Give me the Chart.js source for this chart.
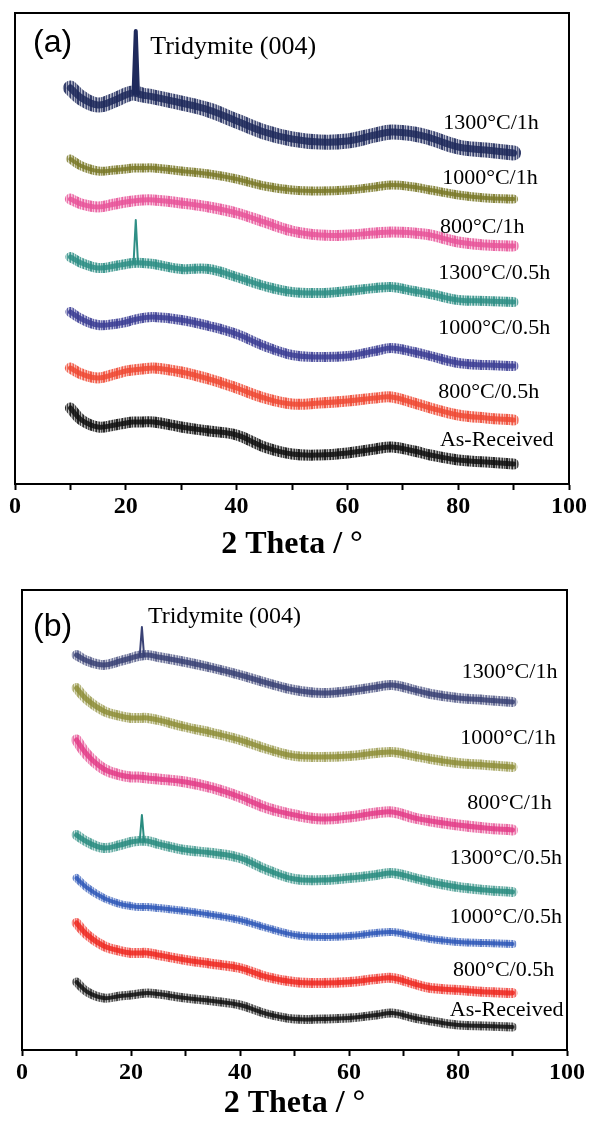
<!DOCTYPE html>
<html>
<head>
<meta charset="utf-8">
<script src="https://cdn.jsdelivr.net/npm/chart.js@4.4.0/dist/chart.umd.min.js"></script>
<style>
  body { margin: 0; background: #fff; width: 590px; height: 1133px; overflow: hidden; }
  .panel { position: absolute; left: 0; width: 590px; }
</style>
</head>
<body>
<div class="panel" style="top:0;height:568px"><canvas id="chartA" width="590" height="568"></canvas></div>
<div class="panel" style="top:568px;height:565px"><canvas id="chartB" width="590" height="565"></canvas></div>
<script>
// 2 theta sample positions (deg)
const theta = [10, 12, 15, 18, 20, 21.3, 23, 25, 30, 35, 40, 45, 50, 55, 60, 65, 68, 72, 75, 80, 85, 90];
const seriesNames = ['1300°C/1h', '1000°C/1h', '800°C/1h', '1300°C/0.5h', '1000°C/0.5h', '800°C/0.5h', 'As-Received'];

// panel (a) - stacked intensities (a.u.)
const a1300_1h  = [396, 386, 379, 384, 389, 391, 389, 387, 381, 374, 363, 352, 345, 342, 343, 349, 352, 350, 346, 337, 334, 331];
const a1000_1h  = [325, 318, 313, 314, 315, 316, 316, 316, 313, 310, 305, 298, 294, 293, 294, 297, 299, 297, 294, 289, 286, 285];
const a800_1h   = [285, 280, 277, 280, 282, 283, 284, 284, 281, 277, 271, 262, 253, 249, 249, 251, 252, 251, 249, 242, 239, 238];
const a1300_05h = [227, 221, 216, 218, 220, 221, 221, 220, 215, 215, 207, 198, 192, 191, 193, 196, 197, 193, 190, 184, 183, 182];
const a1000_05h = [172, 165, 159, 160, 162, 164, 166, 167, 164, 158, 150, 138, 129, 127, 128, 133, 136, 132, 128, 121, 119, 118];
const a800_05h  = [116, 110, 106, 110, 113, 114, 115, 116, 112, 105, 96, 86, 80, 81, 83, 86, 87, 81, 76, 69, 66, 64];
const aAsRec    = [76, 64, 57, 59, 61, 62, 62, 62, 57, 53, 49, 37, 30, 29, 31, 35, 37, 33, 29, 24, 22, 20];

// panel (b)
const b1300_1h  = [395, 389, 385, 389, 392, 394, 395, 393, 388, 382, 375, 367, 360, 357, 359, 363, 365, 360, 356, 352, 350, 348];
const b1000_1h  = [362, 350, 339, 334, 332, 332, 332, 330, 323, 317, 310, 301, 294, 293, 294, 297, 298, 294, 291, 287, 285, 283];
const b800_1h   = [310, 295, 281, 275, 273, 273, 272, 271, 268, 262, 253, 242, 235, 231, 233, 237, 238, 232, 229, 225, 222, 220];
const b1300_05h = [215, 208, 202, 205, 208, 209, 209, 206, 200, 197, 192, 180, 171, 170, 172, 175, 177, 172, 168, 163, 160, 158];
const b1000_05h = [172, 162, 152, 146, 144, 143, 143, 142, 139, 135, 130, 122, 115, 113, 114, 117, 118, 114, 111, 108, 107, 106];
const b800_05h  = [127, 115, 104, 99, 97, 97, 97, 95, 90, 86, 82, 73, 68, 67, 68, 71, 72, 66, 62, 60, 58, 57];
const bAsRec    = [68, 58, 52, 54, 55, 56, 57, 56, 52, 49, 45, 36, 31, 31, 32, 35, 37, 32, 29, 25, 24, 23];

// tridymite (004) reflections
const peakThetaA = [21.4, 21.8, 22.2];
const peakA1300_1h  = [391, 453, 390];
const peakA1300_05h = [221, 264, 221];
const peakThetaB = [21.6, 22.0, 22.4];
const peakB1300_1h  = [394, 423, 394];
const peakB1300_05h = [209, 235, 209];

const colorsA = ['#1f2a5c', '#7b7a2a', '#e8559a', '#2f8f86', '#3d3f95', '#ef4a35', '#111111'];
const widthsA = [15, 9, 11, 10, 10, 11, 11];
const colorsB = ['#3a4275', '#8f8f3a', '#e33d88', '#2a8c80', '#2f58b8', '#ee2a22', '#111111'];
const widthsB = [10, 10, 11, 10, 8, 10, 9];

// label anchor spots (theta, a.u.)
const labelSpotsA = [[77.3, 361], [77.1, 306], [76.7, 257], [76.4, 211], [76.4, 156], [76.4, 92], [76.7, 44]];
const labelSpotsB = [[80.7, 378], [80.4, 312], [81.7, 247], [78.5, 192], [78.5, 133], [79.1, 80], [78.5, 40]];

// column opacities used to give the thick bands a grainy look
const grain = [1, 0.45, 0.9, 0.3, 0.75, 1, 0.4, 0.65, 0.95, 0.35, 0.85, 0.55, 1];

const serif = '"Liberation Serif", "Times New Roman", serif';

function toPoints(xs, ys) {
  return xs.map((x, i) => ({ x: x, y: ys[i] }));
}

function rgba(hex, a) {
  const n = parseInt(hex.slice(1), 16);
  return `rgba(${n >> 16}, ${(n >> 8) & 255}, ${n & 255}, ${a})`;
}

function grainPattern(hex, strength) {
  const c = document.createElement('canvas');
  c.width = grain.length;
  c.height = 2;
  const g = c.getContext('2d');
  grain.forEach((a, i) => {
    g.fillStyle = rgba(hex, a * strength);
    g.fillRect(i, 0, 1, 2);
  });
  return g.createPattern(c, 'repeat');
}

function buildDatasets(series, colors, widths, peaks, strength) {
  const sets = [];
  series.forEach((vals, i) => {
    // grainy band
    sets.push({ label: seriesNames[i], data: toPoints(theta, vals), borderColor: grainPattern(colors[i], strength), borderWidth: widths[i], tension: 0.4 });
    // denser core
    sets.push({ label: seriesNames[i], data: toPoints(theta, vals), borderColor: rgba(colors[i], 0.85), borderWidth: Math.round(widths[i] * 0.45), tension: 0.4 });
  });
  peaks.forEach(p => {
    sets.push({ label: 'peak', data: toPoints(p.xs, p.ys), borderColor: colors[p.series], borderWidth: p.width, tension: 0 });
  });
  return sets;
}

const framePlugin = {
  id: 'frame',
  afterDraw(chart) {
    const { ctx, chartArea } = chart;
    ctx.save();
    ctx.strokeStyle = '#000';
    ctx.lineWidth = 2;
    ctx.beginPath();
    ctx.moveTo(chartArea.left, chartArea.top);
    ctx.lineTo(chartArea.right, chartArea.top);
    ctx.lineTo(chartArea.right, chartArea.bottom);
    ctx.stroke();
    ctx.restore();
  }
};

const textPlugin = {
  id: 'texts',
  afterDraw(chart, args, opts) {
    const { ctx, scales } = chart;
    ctx.save();
    ctx.fillStyle = '#000';
    ctx.textBaseline = 'middle';
    ctx.textAlign = 'left';
    ctx.font = `22px ${serif}`;
    opts.spots.forEach((s, i) => {
      ctx.fillText(seriesNames[i], scales.x.getPixelForValue(s[0]), scales.y.getPixelForValue(s[1]));
    });
    ctx.font = `${opts.tridSize}px ${serif}`;
    ctx.fillText('Tridymite (004)', scales.x.getPixelForValue(opts.trid[0]), scales.y.getPixelForValue(opts.trid[1]));
    ctx.font = '32px "Liberation Sans", Arial, sans-serif';
    ctx.fillText(opts.tag, 33, chart.chartArea.top + opts.tagDy);
    ctx.restore();
  }
};

function makeChart(id, datasets, cfg) {
  return new Chart(document.getElementById(id), {
    type: 'line',
    data: { datasets: datasets },
    plugins: [framePlugin, textPlugin],
    options: {
      responsive: false,
      animation: false,
      devicePixelRatio: 1,
      layout: { padding: cfg.padding },
      elements: { point: { radius: 0 }, line: { borderCapStyle: 'round', borderJoinStyle: 'round' } },
      plugins: {
        legend: { display: false },
        tooltip: { enabled: false },
        texts: { spots: cfg.spots, trid: cfg.trid, tridSize: cfg.tridSize, tag: cfg.tag, tagDy: cfg.tagDy }
      },
      scales: {
        x: {
          type: 'linear', min: 0, max: 100,
          ticks: {
            stepSize: 10, autoSkip: false, maxRotation: 0, padding: 2, color: '#000',
            font: { family: serif, weight: 'bold', size: 24 },
            callback: v => (v % 20 === 0 ? v : '')
          },
          grid: { drawOnChartArea: false, drawTicks: true, tickLength: 6, tickWidth: 2, tickColor: '#000' },
          border: { color: '#000', width: 2 },
          title: {
            display: true, text: '2 Theta / °', color: '#000',
            font: { family: serif, weight: 'bold', size: 32 },
            padding: { top: 0, bottom: cfg.titlePad }
          },
          afterFit: s => { s.height = cfg.xHeight; }
        },
        y: {
          type: 'linear', min: 0, max: cfg.ymax,
          ticks: { display: false },
          grid: { display: false },
          border: { color: '#000', width: 2 },
          afterFit: s => { s.width = cfg.yWidth; }
        }
      }
    }
  });
}

const dsA = buildDatasets(
  [a1300_1h, a1000_1h, a800_1h, a1300_05h, a1000_05h, a800_05h, aAsRec], colorsA, widthsA,
  [{ xs: peakThetaA, ys: peakA1300_1h, series: 0, width: 4 }, { xs: peakThetaA, ys: peakA1300_05h, series: 3, width: 2 }],
  0.9
);
makeChart('chartA', dsA, {
  padding: { left: 0, top: 13, right: 21, bottom: 0 },
  xHeight: 84, yWidth: 15, titlePad: 4, ymax: 471,
  spots: labelSpotsA, trid: [24.4, 437], tridSize: 26, tag: '(a)', tagDy: 30
});

const dsB = buildDatasets(
  [b1300_1h, b1000_1h, b800_1h, b1300_05h, b1000_05h, b800_05h, bAsRec], colorsB, widthsB,
  [{ xs: peakThetaB, ys: peakB1300_1h, series: 0, width: 2 }, { xs: peakThetaB, ys: peakB1300_05h, series: 3, width: 2 }],
  0.75
);
makeChart('chartB', dsB, {
  padding: { left: 0, top: 22, right: 23, bottom: 0 },
  xHeight: 83, yWidth: 22, titlePad: 10, ymax: 460,
  spots: labelSpotsB, trid: [23.1, 433], tridSize: 24, tag: '(b)', tagDy: 37
});
</script>
</body>
</html>
